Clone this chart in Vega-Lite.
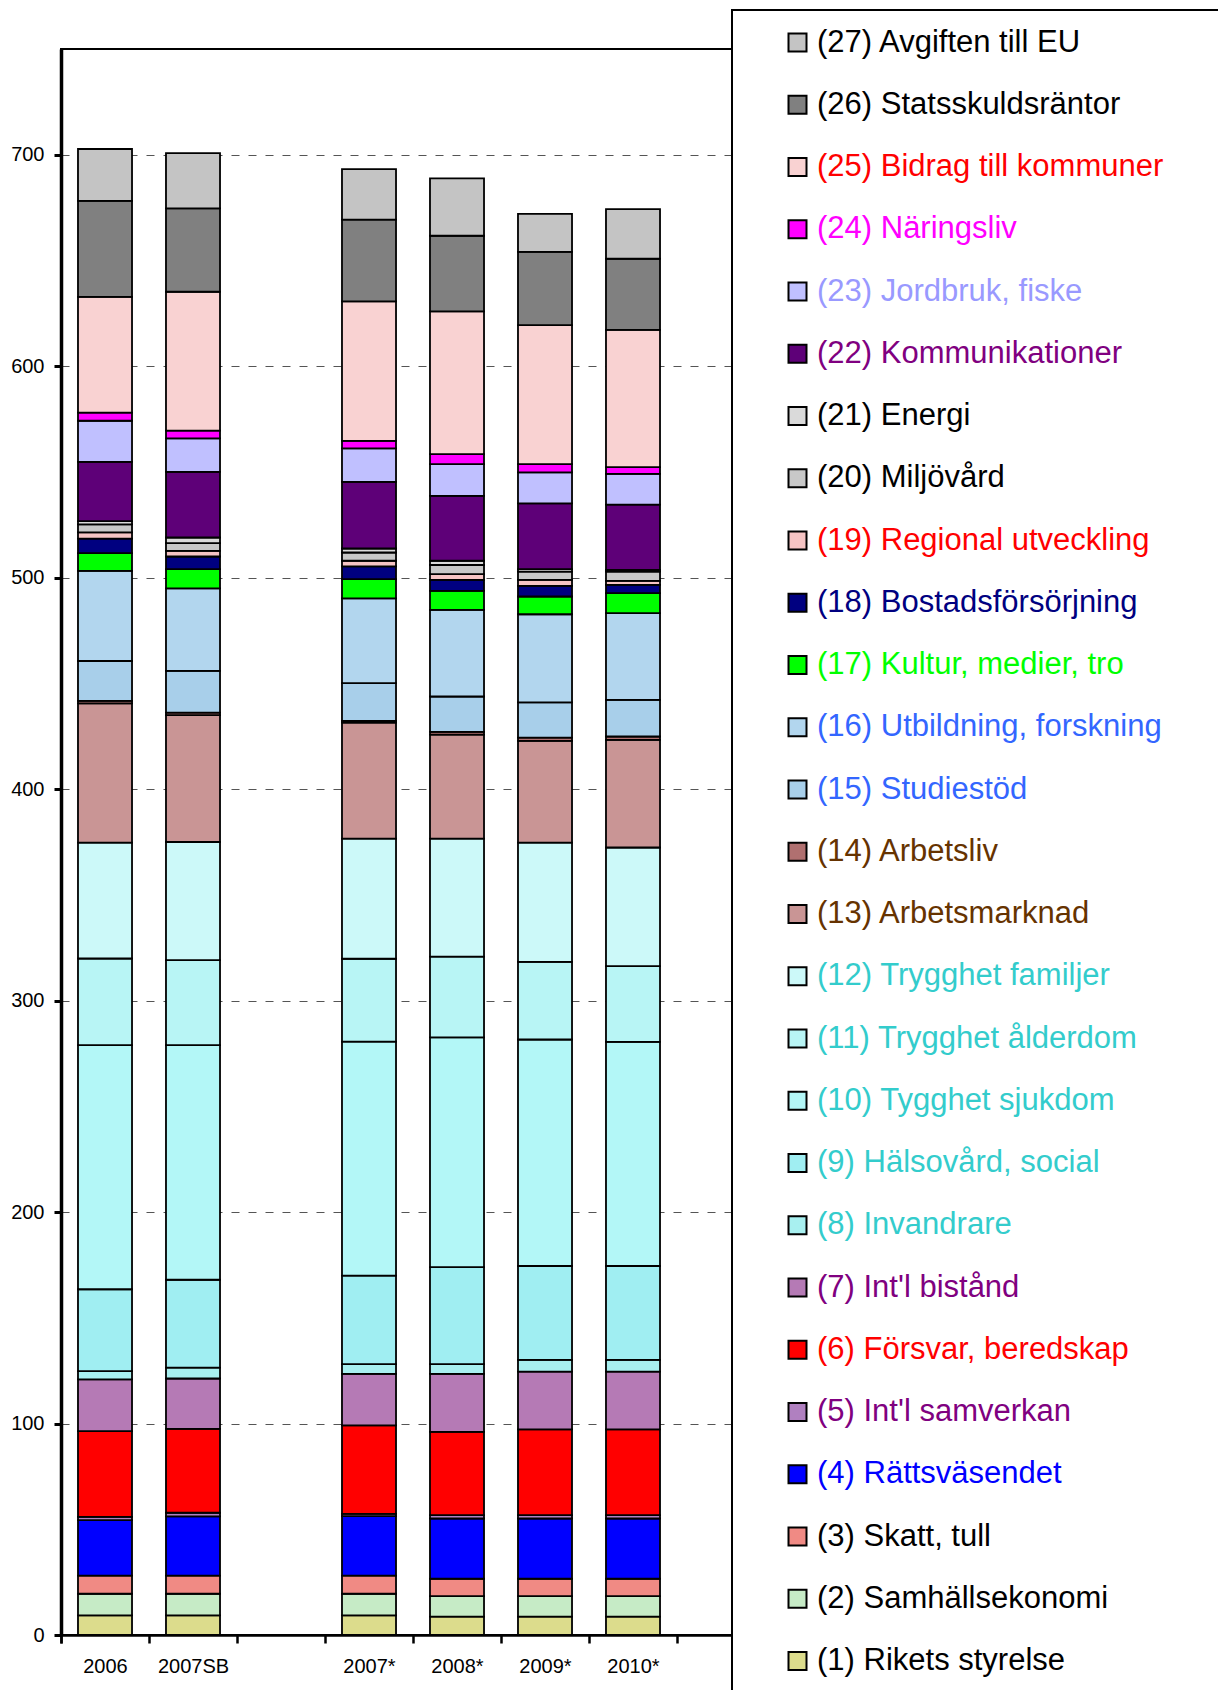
{
  "$schema": "https://vega.github.io/schema/vega-lite/v6.json",
  "width": 704,
  "height": 1586,
  "autosize": {"type": "none"},
  "padding": {"left": 61, "top": 49, "right": 453, "bottom": 55},
  "background": "white",
  "datasets": {
    "names": [
      {"k": 1, "name": "(1) Rikets styrelse"},
      {"k": 2, "name": "(2) Samhällsekonomi"},
      {"k": 3, "name": "(3) Skatt, tull"},
      {"k": 4, "name": "(4) Rättsväsendet"},
      {"k": 5, "name": "(5) Int'l samverkan"},
      {"k": 6, "name": "(6) Försvar, beredskap"},
      {"k": 7, "name": "(7) Int'l bistånd"},
      {"k": 8, "name": "(8) Invandrare"},
      {"k": 9, "name": "(9) Hälsovård, social"},
      {"k": 10, "name": "(10) Tygghet sjukdom"},
      {"k": 11, "name": "(11) Trygghet ålderdom"},
      {"k": 12, "name": "(12) Trygghet familjer"},
      {"k": 13, "name": "(13) Arbetsmarknad"},
      {"k": 14, "name": "(14) Arbetsliv"},
      {"k": 15, "name": "(15) Studiestöd"},
      {"k": 16, "name": "(16) Utbildning, forskning"},
      {"k": 17, "name": "(17) Kultur, medier, tro"},
      {"k": 18, "name": "(18) Bostadsförsörjning"},
      {"k": 19, "name": "(19) Regional utveckling"},
      {"k": 20, "name": "(20) Miljövård"},
      {"k": 21, "name": "(21) Energi"},
      {"k": 22, "name": "(22) Kommunikationer"},
      {"k": 23, "name": "(23) Jordbruk, fiske"},
      {"k": 24, "name": "(24) Näringsliv"},
      {"k": 25, "name": "(25) Bidrag till kommuner"},
      {"k": 26, "name": "(26) Statsskuldsräntor"},
      {"k": 27, "name": "(27) Avgiften till EU"}
    ],
    "vals": [
      {"year": "2006", "k": 1, "value": 9.3}, {"year": "2006", "k": 2, "value": 10.2}, {"year": "2006", "k": 3, "value": 8.6},
      {"year": "2006", "k": 4, "value": 26.2}, {"year": "2006", "k": 5, "value": 1.6}, {"year": "2006", "k": 6, "value": 40.5},
      {"year": "2006", "k": 7, "value": 24.5}, {"year": "2006", "k": 8, "value": 3.9}, {"year": "2006", "k": 9, "value": 38.7},
      {"year": "2006", "k": 10, "value": 115.4}, {"year": "2006", "k": 11, "value": 41.0}, {"year": "2006", "k": 12, "value": 54.8},
      {"year": "2006", "k": 13, "value": 65.9}, {"year": "2006", "k": 14, "value": 1.1}, {"year": "2006", "k": 15, "value": 18.9},
      {"year": "2006", "k": 16, "value": 42.6}, {"year": "2006", "k": 17, "value": 8.4}, {"year": "2006", "k": 18, "value": 6.9},
      {"year": "2006", "k": 19, "value": 2.9}, {"year": "2006", "k": 20, "value": 3.8}, {"year": "2006", "k": 21, "value": 1.5},
      {"year": "2006", "k": 22, "value": 28.1}, {"year": "2006", "k": 23, "value": 19.4}, {"year": "2006", "k": 24, "value": 3.8},
      {"year": "2006", "k": 25, "value": 54.8}, {"year": "2006", "k": 26, "value": 45.4}, {"year": "2006", "k": 27, "value": 24.5},

      {"year": "2007SB", "k": 1, "value": 9.3}, {"year": "2007SB", "k": 2, "value": 10.2}, {"year": "2007SB", "k": 3, "value": 8.6},
      {"year": "2007SB", "k": 4, "value": 28.0}, {"year": "2007SB", "k": 5, "value": 1.7}, {"year": "2007SB", "k": 6, "value": 39.7},
      {"year": "2007SB", "k": 7, "value": 23.8}, {"year": "2007SB", "k": 8, "value": 5.1}, {"year": "2007SB", "k": 9, "value": 41.6},
      {"year": "2007SB", "k": 10, "value": 110.9}, {"year": "2007SB", "k": 11, "value": 40.2}, {"year": "2007SB", "k": 12, "value": 55.9},
      {"year": "2007SB", "k": 13, "value": 60.0}, {"year": "2007SB", "k": 14, "value": 1.2}, {"year": "2007SB", "k": 15, "value": 19.7},
      {"year": "2007SB", "k": 16, "value": 39.0}, {"year": "2007SB", "k": 17, "value": 9.1}, {"year": "2007SB", "k": 18, "value": 6.0},
      {"year": "2007SB", "k": 19, "value": 2.7}, {"year": "2007SB", "k": 20, "value": 3.6}, {"year": "2007SB", "k": 21, "value": 2.7},
      {"year": "2007SB", "k": 22, "value": 31.0}, {"year": "2007SB", "k": 23, "value": 15.9}, {"year": "2007SB", "k": 24, "value": 3.6},
      {"year": "2007SB", "k": 25, "value": 65.7}, {"year": "2007SB", "k": 26, "value": 39.4}, {"year": "2007SB", "k": 27, "value": 26.2},

      {"year": "2007*", "k": 1, "value": 9.3}, {"year": "2007*", "k": 2, "value": 10.2}, {"year": "2007*", "k": 3, "value": 8.6},
      {"year": "2007*", "k": 4, "value": 28.1}, {"year": "2007*", "k": 5, "value": 1.1}, {"year": "2007*", "k": 6, "value": 41.8},
      {"year": "2007*", "k": 7, "value": 24.4}, {"year": "2007*", "k": 8, "value": 4.6}, {"year": "2007*", "k": 9, "value": 41.8},
      {"year": "2007*", "k": 10, "value": 110.7}, {"year": "2007*", "k": 11, "value": 39.2}, {"year": "2007*", "k": 12, "value": 56.8},
      {"year": "2007*", "k": 13, "value": 54.9}, {"year": "2007*", "k": 14, "value": 0.8}, {"year": "2007*", "k": 15, "value": 17.8},
      {"year": "2007*", "k": 16, "value": 40.1}, {"year": "2007*", "k": 17, "value": 9.1}, {"year": "2007*", "k": 18, "value": 6.0},
      {"year": "2007*", "k": 19, "value": 2.7}, {"year": "2007*", "k": 20, "value": 3.9}, {"year": "2007*", "k": 21, "value": 1.9},
      {"year": "2007*", "k": 22, "value": 31.5}, {"year": "2007*", "k": 23, "value": 15.8}, {"year": "2007*", "k": 24, "value": 3.6},
      {"year": "2007*", "k": 25, "value": 66.0}, {"year": "2007*", "k": 26, "value": 38.6}, {"year": "2007*", "k": 27, "value": 23.9},

      {"year": "2008*", "k": 1, "value": 8.7}, {"year": "2008*", "k": 2, "value": 9.7}, {"year": "2008*", "k": 3, "value": 8.2},
      {"year": "2008*", "k": 4, "value": 28.5}, {"year": "2008*", "k": 5, "value": 1.6}, {"year": "2008*", "k": 6, "value": 39.4},
      {"year": "2008*", "k": 7, "value": 27.4}, {"year": "2008*", "k": 8, "value": 4.6}, {"year": "2008*", "k": 9, "value": 45.9},
      {"year": "2008*", "k": 10, "value": 108.6}, {"year": "2008*", "k": 11, "value": 38.2}, {"year": "2008*", "k": 12, "value": 55.8},
      {"year": "2008*", "k": 13, "value": 49.2}, {"year": "2008*", "k": 14, "value": 1.3}, {"year": "2008*", "k": 15, "value": 16.7},
      {"year": "2008*", "k": 16, "value": 41.0}, {"year": "2008*", "k": 17, "value": 9.0}, {"year": "2008*", "k": 18, "value": 5.2},
      {"year": "2008*", "k": 19, "value": 2.7}, {"year": "2008*", "k": 20, "value": 4.3}, {"year": "2008*", "k": 21, "value": 2.0},
      {"year": "2008*", "k": 22, "value": 30.7}, {"year": "2008*", "k": 23, "value": 15.0}, {"year": "2008*", "k": 24, "value": 4.7},
      {"year": "2008*", "k": 25, "value": 67.5}, {"year": "2008*", "k": 26, "value": 35.8}, {"year": "2008*", "k": 27, "value": 27.1},

      {"year": "2009*", "k": 1, "value": 8.7}, {"year": "2009*", "k": 2, "value": 9.7}, {"year": "2009*", "k": 3, "value": 8.2},
      {"year": "2009*", "k": 4, "value": 28.5}, {"year": "2009*", "k": 5, "value": 1.6}, {"year": "2009*", "k": 6, "value": 40.5},
      {"year": "2009*", "k": 7, "value": 27.3}, {"year": "2009*", "k": 8, "value": 5.6}, {"year": "2009*", "k": 9, "value": 44.4},
      {"year": "2009*", "k": 10, "value": 107.1}, {"year": "2009*", "k": 11, "value": 36.7}, {"year": "2009*", "k": 12, "value": 56.4},
      {"year": "2009*", "k": 13, "value": 48.1}, {"year": "2009*", "k": 14, "value": 1.6}, {"year": "2009*", "k": 15, "value": 16.6},
      {"year": "2009*", "k": 16, "value": 41.7}, {"year": "2009*", "k": 17, "value": 8.4}, {"year": "2009*", "k": 18, "value": 5.0},
      {"year": "2009*", "k": 19, "value": 2.9}, {"year": "2009*", "k": 20, "value": 3.9}, {"year": "2009*", "k": 21, "value": 1.1},
      {"year": "2009*", "k": 22, "value": 31.1}, {"year": "2009*", "k": 23, "value": 14.7}, {"year": "2009*", "k": 24, "value": 3.9},
      {"year": "2009*", "k": 25, "value": 65.7}, {"year": "2009*", "k": 26, "value": 34.7}, {"year": "2009*", "k": 27, "value": 17.9},

      {"year": "2010*", "k": 1, "value": 8.7}, {"year": "2010*", "k": 2, "value": 9.7}, {"year": "2010*", "k": 3, "value": 8.2},
      {"year": "2010*", "k": 4, "value": 28.5}, {"year": "2010*", "k": 5, "value": 1.6}, {"year": "2010*", "k": 6, "value": 40.5},
      {"year": "2010*", "k": 7, "value": 27.3}, {"year": "2010*", "k": 8, "value": 5.6}, {"year": "2010*", "k": 9, "value": 44.4},
      {"year": "2010*", "k": 10, "value": 106.0}, {"year": "2010*", "k": 11, "value": 35.8}, {"year": "2010*", "k": 12, "value": 56.1},
      {"year": "2010*", "k": 13, "value": 50.9}, {"year": "2010*", "k": 14, "value": 1.6}, {"year": "2010*", "k": 15, "value": 17.3},
      {"year": "2010*", "k": 16, "value": 41.0}, {"year": "2010*", "k": 17, "value": 9.5}, {"year": "2010*", "k": 18, "value": 3.9},
      {"year": "2010*", "k": 19, "value": 1.9}, {"year": "2010*", "k": 20, "value": 4.4}, {"year": "2010*", "k": 21, "value": 0.8},
      {"year": "2010*", "k": 22, "value": 30.8}, {"year": "2010*", "k": 23, "value": 14.6}, {"year": "2010*", "k": 24, "value": 3.2},
      {"year": "2010*", "k": 25, "value": 64.9}, {"year": "2010*", "k": 26, "value": 33.6}, {"year": "2010*", "k": 27, "value": 23.5}
    ]
  },
  "data": {"name": "vals"},
  "transform": [
    {"lookup": "k", "from": {"data": {"name": "names"}, "key": "k", "fields": ["name"]}}
  ],
  "mark": {"type": "bar", "stroke": "black", "strokeWidth": 1.8},
  "encoding": {
    "x": {
      "field": "year",
      "type": "nominal",
      "sort": null,
      "scale": {
        "domain": ["2006", "2007SB", " ", "2007*", "2008*", "2009*", "2010*", "  "],
        "paddingInner": 0.386,
        "paddingOuter": 0.193
      },
      "axis": {
        "title": null,
        "labelAngle": 0,
        "labelFont": "Liberation Sans",
        "labelFontSize": 20,
        "labelColor": "black",
        "labelPadding": 13,
        "bandPosition": 0,
        "tickExtra": true,
        "tickOffset": -17,
        "labelOffset": 17,
        "tickSize": 8,
        "tickWidth": 2.5,
        "tickColor": "black",
        "domainColor": "black",
        "domainWidth": 2.5,
        "grid": false
      }
    },
    "y": {
      "field": "value",
      "type": "quantitative",
      "stack": "zero",
      "scale": {"domain": [0, 750], "nice": false},
      "axis": {
        "title": null,
        "values": [0, 100, 200, 300, 400, 500, 600, 700],
        "labelFont": "Liberation Sans",
        "labelFontSize": 20,
        "labelColor": "black",
        "labelPadding": 10,
        "tickSize": 7,
        "tickWidth": 3,
        "tickColor": "black",
        "domainColor": "black",
        "domainWidth": 3.5,
        "grid": true,
        "gridColor": "#555555",
        "gridDash": [8, 9],
        "gridWidth": 1.2
      }
    },
    "color": {
      "field": "name",
      "type": "nominal",
      "scale": {
        "domain": [
          "(27) Avgiften till EU", "(26) Statsskuldsräntor", "(25) Bidrag till kommuner", "(24) Näringsliv",
          "(23) Jordbruk, fiske", "(22) Kommunikationer", "(21) Energi", "(20) Miljövård",
          "(19) Regional utveckling", "(18) Bostadsförsörjning", "(17) Kultur, medier, tro", "(16) Utbildning, forskning",
          "(15) Studiestöd", "(14) Arbetsliv", "(13) Arbetsmarknad", "(12) Trygghet familjer",
          "(11) Trygghet ålderdom", "(10) Tygghet sjukdom", "(9) Hälsovård, social", "(8) Invandrare",
          "(7) Int'l bistånd", "(6) Försvar, beredskap", "(5) Int'l samverkan", "(4) Rättsväsendet",
          "(3) Skatt, tull", "(2) Samhällsekonomi", "(1) Rikets styrelse"
        ],
        "range": [
          "#C4C4C4", "#808080", "#F9D2D2", "#FF00FF",
          "#C0C0FF", "#5E0078", "#DADADA", "#C8C8C8",
          "#F6C4C4", "#000080", "#00FF00", "#B2D6EE",
          "#A8CFEA", "#B07070", "#C99595", "#CCF9F9",
          "#B8F5F5", "#B3F7F7", "#A0EEF2", "#A8F0F0",
          "#B57AB5", "#FF0000", "#B080C0", "#0000FF",
          "#F08A84", "#C6EBC6", "#DCDC8C"
        ]
      },
      "legend": {
        "title": " ",
        "titleOrient": "right",
        "titlePadding": 44,
        "titleFontSize": 31,
        "orient": "none",
        "legendX": 671,
        "legendY": -39,
        "direction": "vertical",
        "fillColor": "white",
        "strokeColor": "black",
        "padding": 17,
        "symbolType": "square",
        "symbolSize": 324,
        "symbolStrokeColor": "black",
        "symbolStrokeWidth": 2,
        "symbolOpacity": 1,
        "symbolOffset": 33,
        "labelFont": "Liberation Sans",
        "labelFontSize": 31,
        "labelOffset": 4,
        "labelLimit": 600,
        "rowPadding": 30.25,
        "encode": {
          "legend": {
            "update": {
              "strokeWidth": {"value": 2}
            }
          },
          "labels": {
            "update": {
              "fill": {"signal": "['#000000','#000000','#000000','#000000','#0000FF','#800080','#FF0000','#800080','#33CCCC','#33CCCC','#33CCCC','#33CCCC','#33CCCC','#663300','#663300','#3366FF','#3366FF','#00FF00','#000080','#FF0000','#000000','#000000','#800080','#9999FF','#FF00FF','#FF0000','#000000','#000000'][parseInt(substring(datum.value,1,3))]"}
            }
          }
        }
      }
    },
    "order": {"field": "k", "type": "quantitative", "sort": "ascending"}
  },
  "config": {
    "font": "Liberation Sans",
    "view": {"stroke": "black", "strokeWidth": 2}
  }
}
